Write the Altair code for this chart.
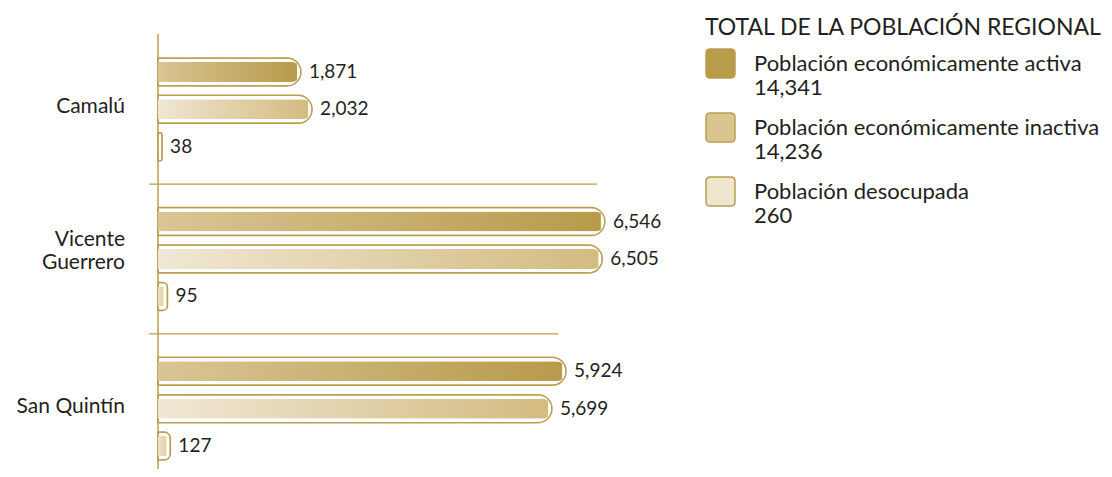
import altair as alt
import pandas as pd

# ---- data ----
regions = ["Camalú", "Vicente Guerrero", "San Quintín"]
region_labels = ["Camalú", "Vicente\nGuerrero", "San Quintín"]
series = [
    "Población económicamente activa",
    "Población económicamente inactiva",
    "Población desocupada",
]
activa = [1871, 6546, 5924]
inactiva = [2032, 6505, 5699]
desocupada = [38, 95, 127]
legend_title = "TOTAL DE LA POBLACIÓN REGIONAL"

# ---- styles ----
gold = "#bb9d4c"
ink = "#231f20"
font = "Lato"
swatch = ["#b89c4c", "#d8c591", "#eee5cf"]
grad_colors = [("#dac696", "#b89a4a"), ("#f0e8d5", "#d3bb80"), ("#f1ead8", "#e2d2a6")]

totals = [sum(activa), sum(inactiva), sum(desocupada)]
keys = [f"{s}|{t:,}" for s, t in zip(series, totals)]

# slots: 3 bars per region, a gap slot between regions
slots = []
for gi, r in enumerate(regions):
    slots += [f"{r}|{s}" for s in series]
    if gi < len(regions) - 1:
        slots.append(f"gap{gi + 1}")

rows = []
for i, r in enumerate(regions):
    for s, k, vals in zip(series, keys, [activa, inactiva, desocupada]):
        rows.append({"region": r, "series": s, "key": k, "slot": f"{r}|{s}", "value": vals[i]})
df = pd.DataFrame(rows)

group_max = [max(a, b, c) for a, b, c in zip(activa, inactiva, desocupada)]
sep_df = pd.DataFrame({"slot": [f"gap{i}" for i in range(1, len(regions))],
                       "x0": [0] * (len(regions) - 1), "end": group_max[1:]})
lab_df = pd.DataFrame({
    "label": region_labels,
    "lines": [lab.count("\n") + 1 for lab in region_labels],
    "x0": [0] * len(regions),
    "slot": [f"{r}|{series[1]}" for r in regions],
})
axis_df = pd.DataFrame({"x0": [0]})

xs = alt.Scale(type="pow", exponent=0.91, domain=[0, 7000])
ys = alt.Scale(domain=slots, range=[0, 450], paddingInner=0.253, paddingOuter=0.64)

base = alt.Chart(df).encode(
    x=alt.X("value:Q", scale=xs, axis=None),
    y=alt.Y("slot:N", scale=ys, axis=None),
)

layers = []
for s, (c0, c1) in zip(series, grad_colors):
    grad = alt.Gradient(
        gradient="linear",
        stops=[alt.GradientStop(color=c0, offset=0), alt.GradientStop(color=c1, offset=1)],
        x1=0, x2=1, y1=0, y2=0,
    )
    sub = base.transform_filter(alt.datum.series == s)
    layers.append(sub.mark_bar(fill="white", stroke=gold, strokeWidth=1.5, cornerRadiusEnd=14))
    layers.append(sub.mark_bar(color=grad, height=20, cornerRadiusEnd=10, xOffset=-4))

values = base.mark_text(
    align="left", baseline="middle", dx=8, fontSize=19, font=font, color=ink
).encode(text=alt.Text("value:Q", format=","))

seps = alt.Chart(sep_df).mark_rule(
    color=gold, strokeWidth=1.2, xOffset=-9, x2Offset=-8
).encode(
    y=alt.Y("slot:N", scale=ys, axis=None),
    x=alt.X("x0:Q", scale=xs, axis=None),
    x2="end:Q",
)

vline = alt.Chart(axis_df).mark_rule(color=gold, strokeWidth=1.5).encode(
    x=alt.X("x0:Q", scale=xs, axis=None)
)

lab_enc = dict(
    y=alt.Y("slot:N", scale=ys, axis=None),
    x=alt.X("x0:Q", scale=xs, axis=None),
    text="label:N",
)
region_text_1 = alt.Chart(lab_df).transform_filter(alt.datum.lines == 1).mark_text(
    align="right", baseline="middle", dx=-33, dy=-2, fontSize=21, font=font, color=ink,
).encode(**lab_enc)
region_text_2 = alt.Chart(lab_df).transform_filter(alt.datum.lines > 1).mark_text(
    align="right", baseline="middle", dx=-33, dy=-19, fontSize=21, font=font, color=ink,
    lineBreak="\n", lineHeight=23,
).encode(**lab_enc)

sym = "M -0.7,-1 L 0.7,-1 Q 1,-1 1,-0.7 L 1,0.7 Q 1,1 0.7,1 L -0.7,1 Q -1,1 -1,0.7 L -1,-0.7 Q -1,-1 -0.7,-1 Z"
legend_layer = base.mark_square(opacity=0).encode(
    color=alt.Color(
        "key:N",
        scale=alt.Scale(domain=keys, range=swatch),
        legend=alt.Legend(
            title=legend_title,
            orient="none",
            legendX=547,
            legendY=-17,
            titleFont=font,
            titleFontSize=23,
            titleFontWeight="normal",
            titleColor=ink,
            titlePadding=8,
            titleLimit=0,
            labelFont=font,
            labelFontSize=22,
            labelColor=ink,
            labelLimit=0,
            labelOffset=18,
            labelExpr="split(datum.label, '|')",
            symbolType=sym,
            symbolSize=841,
            symbolStrokeColor=gold,
            symbolStrokeWidth=1.5,
            symbolOpacity=1,
            rowPadding=11,
        ),
    )
)

chart = alt.layer(
    vline, *layers, values, seps, region_text_1, region_text_2, legend_layer
).properties(
    width=475,
    height=435,
    padding={"left": 150, "top": 26, "right": 471, "bottom": 0},
    autosize=alt.AutoSizeParams(type="none"),
    background="white",
).configure_view(stroke=None)

chart.save("out.html", embed_options={"renderer": "svg", "actions": False})
